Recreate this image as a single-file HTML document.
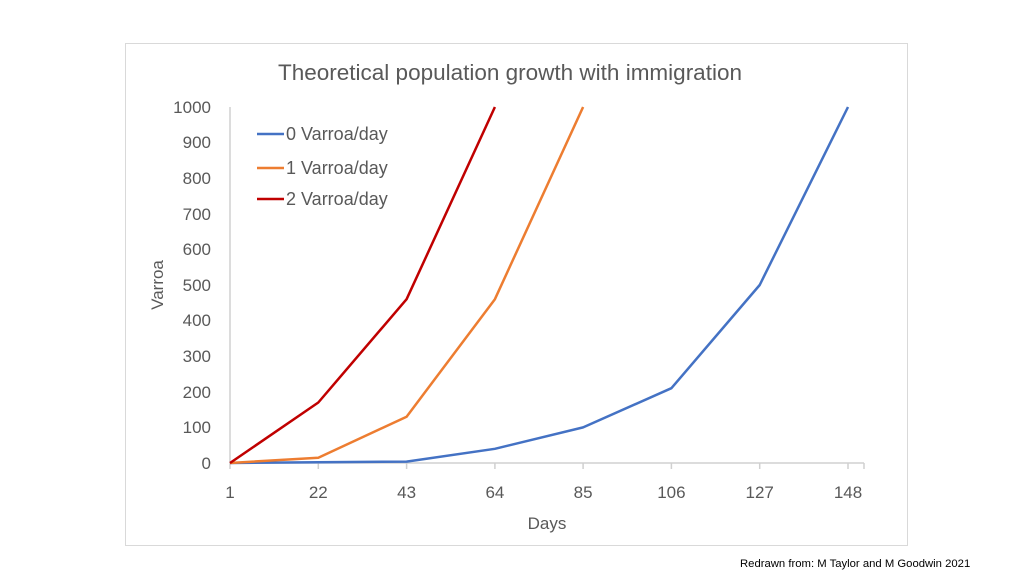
<!DOCTYPE html>
<html><head><meta charset="utf-8"><style>body{margin:0;background:#fff}svg{display:block}</style></head>
<body>
<svg width="1024" height="576" xmlns="http://www.w3.org/2000/svg" font-family="Liberation Sans, sans-serif" fill="#595959">
<rect x="125.5" y="43.5" width="782" height="502" fill="#fff" stroke="#d9d9d9"/>
<text x="510" y="80" font-size="22.5" text-anchor="middle">Theoretical population growth with immigration</text>
<line x1="230" y1="107" x2="230" y2="463" stroke="#d0d0d0" stroke-width="1.5"/>
<line x1="230" y1="463" x2="864" y2="463" stroke="#d0d0d0" stroke-width="1.5"/>
<g stroke="#d0d0d0" stroke-width="1.5">
<line x1="230" y1="463" x2="230" y2="469"/><line x1="318.3" y1="463" x2="318.3" y2="469"/><line x1="406.6" y1="463" x2="406.6" y2="469"/><line x1="494.9" y1="463" x2="494.9" y2="469"/><line x1="583.1" y1="463" x2="583.1" y2="469"/><line x1="671.4" y1="463" x2="671.4" y2="469"/><line x1="759.7" y1="463" x2="759.7" y2="469"/><line x1="848" y1="463" x2="848" y2="469"/><line x1="864" y1="463" x2="864" y2="469"/>
</g>
<g font-size="17" text-anchor="end">
<text x="211" y="469">0</text><text x="211" y="433">100</text><text x="211" y="398">200</text><text x="211" y="362">300</text><text x="211" y="326">400</text><text x="211" y="291">500</text><text x="211" y="255">600</text><text x="211" y="220">700</text><text x="211" y="184">800</text><text x="211" y="148">900</text><text x="211" y="113">1000</text>
</g>
<g font-size="17" text-anchor="middle">
<text x="230" y="498">1</text><text x="318.3" y="498">22</text><text x="406.6" y="498">43</text><text x="494.9" y="498">64</text><text x="583.1" y="498">85</text><text x="671.4" y="498">106</text><text x="759.7" y="498">127</text><text x="848" y="498">148</text>
<text x="547" y="529">Days</text>
</g>
<text transform="translate(163,285) rotate(-90)" font-size="17" text-anchor="middle">Varroa</text>
<g fill="none" stroke-width="2.5" stroke-linejoin="round">
<polyline stroke="#4472c4" points="230,463 318.3,462.3 406.6,461.6 494.9,448.8 583.1,427.4 671.4,388.2 759.7,285 848,107"/>
<polyline stroke="#ed7d31" points="230,463 318.3,457.7 406.6,416.7 494.9,299.2 583.1,107"/>
<polyline stroke="#c00000" points="230,463 318.3,402.5 406.6,299.2 494.9,107"/>
</g>
<g stroke-width="2.5">
<line x1="257" y1="134" x2="284" y2="134" stroke="#4472c4"/>
<line x1="257" y1="168" x2="284" y2="168" stroke="#ed7d31"/>
<line x1="257" y1="199" x2="284" y2="199" stroke="#c00000"/>
</g>
<g font-size="18">
<text x="286" y="140">0 Varroa/day</text><text x="286" y="174">1 Varroa/day</text><text x="286" y="205">2 Varroa/day</text>
</g>
<text x="740" y="567" font-size="11.3" fill="#000">Redrawn from: M Taylor and M Goodwin  2021</text>
</svg>
</body></html>
